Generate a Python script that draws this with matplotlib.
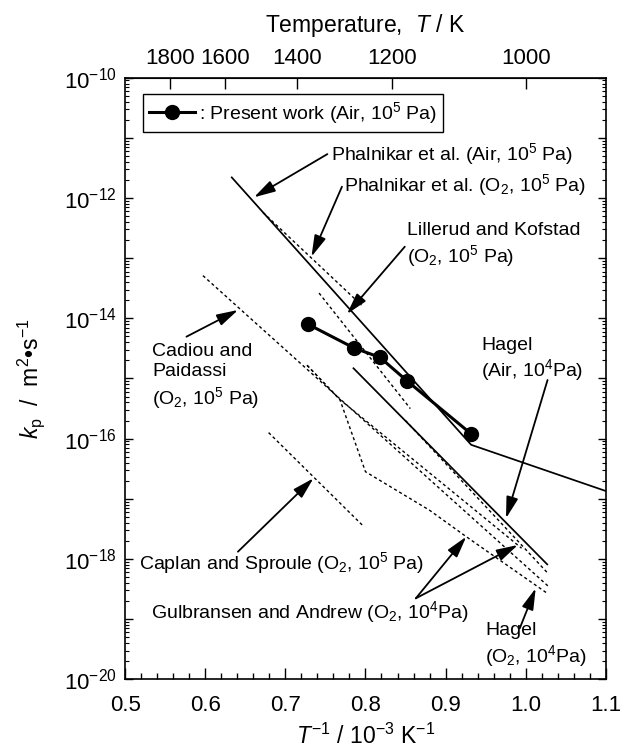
import numpy as np
import matplotlib
matplotlib.use('Agg')
import matplotlib.pyplot as plt
from matplotlib.ticker import FixedLocator, FuncFormatter, LogLocator, MultipleLocator, NullFormatter
from matplotlib.lines import Line2D

plt.rcParams['font.family'] = ['Liberation Sans', 'DejaVu Sans']
plt.rcParams['mathtext.fontset'] = 'custom'
plt.rcParams['mathtext.rm'] = 'Liberation Sans'
plt.rcParams['mathtext.it'] = 'Liberation Sans:italic'
plt.rcParams['mathtext.bf'] = 'Liberation Sans:bold'

# ---------------- data (x: 1/T in 1e-3 K^-1, y: kp in m^2/s) ----------------
present_x = [0.728, 0.786, 0.818, 0.852, 0.932]
present_kp = [8.0e-15, 3.2e-15, 2.25e-15, 9.1e-16, 1.2e-16]

phal_air_x = [0.633, 0.932, 1.10]
phal_air_kp = [2.2e-12, 7.9e-17, 1.35e-17]

phal_o2_x = [0.672, 0.795]
phal_o2_kp = [5.75e-13, 1.66e-14]

lillerud_x = [0.742, 0.856]
lillerud_kp = [2.63e-14, 3.16e-16]

cadiou_x = [0.597, 1.028]
cadiou_kp = [5.13e-14, 3.55e-19]

caplan_x = [0.679, 0.797]
caplan_kp = [1.26e-16, 3.55e-18]

gulb1_x = [0.727, 0.768, 0.800, 0.880, 0.926, 1.028]
gulb1_kp = [1.66e-15, 4.47e-16, 2.82e-17, 6.46e-18, 2.34e-18, 2.63e-19]

gulb2_x = [0.727, 0.768, 0.995]
gulb2_kp = [1.66e-15, 4.47e-16, 1.51e-18]

hagel_air_x = [0.785, 1.027]
hagel_air_kp = [1.48e-15, 8.13e-19]

hagel_o2_x = [0.850, 1.028]
hagel_o2_kp = [2.0e-16, 5.75e-19]

top_T_ticks = [1800, 1600, 1400, 1200, 1000]

# ---------------- figure ----------------
fig = plt.figure(figsize=(6.23, 7.53), dpi=100)
ax = fig.add_axes([0.2011, 0.0979, 0.7711, 0.7989])
ax.set_xlim(0.5, 1.1)
ax.set_yscale('log')
ax.set_ylim(1e-20, 1e-10)

DASH = (0, (2.2, 2.0))
lw_solid = 1.25
lw_dash = 1.0

ax.plot(phal_air_x, phal_air_kp, color='k', lw=lw_solid)
ax.plot(hagel_air_x, hagel_air_kp, color='k', lw=lw_solid)
for xs, ys in [(phal_o2_x, phal_o2_kp), (lillerud_x, lillerud_kp), (cadiou_x, cadiou_kp),
               (caplan_x, caplan_kp), (gulb1_x, gulb1_kp), (gulb2_x, gulb2_kp),
               (hagel_o2_x, hagel_o2_kp)]:
    ax.plot(xs, ys, color='k', lw=lw_dash, linestyle=DASH)

ax.plot(present_x, present_kp, color='k', lw=2.2, marker='o', markersize=10, zorder=5)

# ---------------- ticks ----------------
TFS = 16
ax.xaxis.set_major_locator(MultipleLocator(0.1))
ax.xaxis.set_minor_locator(MultipleLocator(0.02))
ax.xaxis.set_major_formatter(FuncFormatter(lambda v, p: f'{v:.1f}'))
ax.yaxis.set_major_locator(LogLocator(base=10, numticks=20))
ax.yaxis.set_minor_locator(LogLocator(base=10, subs=np.arange(2, 10), numticks=20))
ax.yaxis.set_minor_formatter(NullFormatter())

def yfmt(y, pos):
    e = int(round(np.log10(y)))
    return f'10$^{{{e}}}$' if e % 2 == 0 else ''
ax.yaxis.set_major_formatter(FuncFormatter(yfmt))

ax.tick_params(axis='x', which='major', direction='in', length=8, width=1, labelsize=TFS, pad=11, top=False)
ax.tick_params(axis='x', which='minor', direction='in', length=4.3, width=1, top=False)
ax.tick_params(axis='y', which='major', direction='in', length=5.8, width=1, labelsize=TFS, pad=6, right=True)
ax.tick_params(axis='y', which='minor', direction='in', length=3, width=0.8, right=True)
for s in ax.spines.values():
    s.set_linewidth(1.2)

sec = ax.secondary_xaxis('top', functions=(lambda v: 1000.0 / np.where(v == 0, 1e-9, v),
                                            lambda T: 1000.0 / np.where(T == 0, 1e-9, T)))
sec.set_xticks(top_T_ticks)
sec.xaxis.set_minor_locator(FixedLocator([]))
sec.tick_params(axis='x', which='major', direction='in', length=8, width=1, labelsize=TFS, pad=6)
sec.set_xlabel('Temperature,  $T$ / K', fontsize=16.5, labelpad=12)

ax.set_xlabel('$T^{-1}$ / 10$^{-3}$ K$^{-1}$', fontsize=16.5, labelpad=6)
ax.set_ylabel('$k_{\\mathrm{p}}$  /  m$^{2}$•s$^{-1}$', fontsize=16.5, labelpad=12)

# ---------------- legend ----------------
FS = 14
h = Line2D([], [], color='k', lw=2.2, marker='o', markersize=10)
leg = ax.legend([h], [': Present work (Air, 10$^5$ Pa)'], loc='upper left',
                bbox_to_anchor=(0.0366, 0.9724), borderaxespad=0, fontsize=FS,
                fancybox=False, edgecolor='k', framealpha=1, handlelength=2.4,
                handletextpad=0.2, borderpad=0.3)
leg.get_frame().set_linewidth(1.0)

# ---------------- annotations ----------------
def L(e):
    return 10.0 ** e

def arrow(tail, tip):
    ax.annotate('', xy=tip, xytext=tail,
                arrowprops=dict(arrowstyle='-|>,head_length=1.3,head_width=0.36',
                                color='k', lw=1.3, shrinkA=0, shrinkB=0,
                                mutation_scale=10))

def label(x, y, s, ls=1.2):
    ax.text(x, y, s, fontsize=FS, ha='left', va='center', linespacing=ls)

label(0.7564, L(-11.268), 'Phalnikar et al. (Air, 10$^5$ Pa)')
arrow((0.7524, L(-11.27)), (0.6607, L(-11.988)))

label(0.7731, L(-11.789), 'Phalnikar et al. (O$_2$, 10$^5$ Pa)')
arrow((0.7706, L(-11.812)), (0.7325, L(-12.975)))

label(0.8524, L(-12.794), 'Lillerud and Kofstad\n(O$_2$, 10$^5$ Pa)')
arrow((0.8491, L(-12.809)), (0.7769, L(-13.928)))

label(0.5333, L(-14.973), 'Cadiou and\nPaidassi\n(O$_2$, 10$^5$ Pa)', ls=1.25)
arrow((0.5764, L(-14.305)), (0.6409, L(-13.861)))

label(0.9446, L(-14.693), 'Hagel\n(Air, 10$^4$Pa)')
arrow((1.0274, L(-15.025)), (0.9755, L(-17.324)))

label(0.517, L(-18.072), 'Caplan and Sproule (O$_2$, 10$^5$ Pa)')
arrow((0.6407, L(-17.879)), (0.7350, L(-16.659)))

label(0.5318, L(-18.876), 'Gulbransen and Andrew (O$_2$, 10$^4$Pa)')
arrow((0.8629, L(-18.654)), (0.9259, L(-17.630)))
arrow((0.8629, L(-18.654)), (0.9903, L(-17.768)))

label(0.9496, L(-19.443), 'Hagel\n(O$_2$, 10$^4$Pa)')
arrow((0.9927, L(-19.152)), (1.0126, L(-18.487)))

fig.savefig('out.png', dpi=100)
